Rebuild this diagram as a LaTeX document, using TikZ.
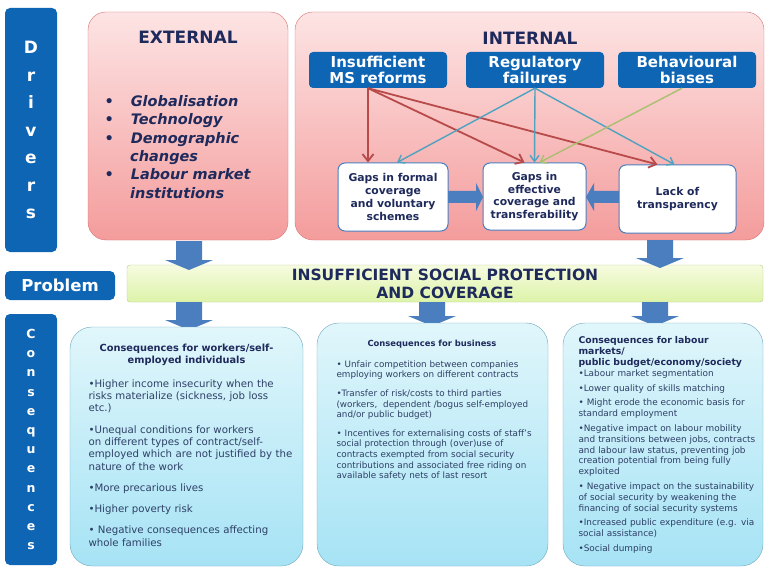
\documentclass[tikz,border=0pt]{standalone}
\usepackage{fontspec}
\setmainfont{DejaVu Sans}
\usetikzlibrary{arrows.meta}
\hyphenpenalty=10000
\definecolor{dblue}{HTML}{0E65B4}
\definecolor{navy}{HTML}{1F2A5C}
\definecolor{ctx}{HTML}{2E3F66}
\definecolor{pinkT}{HTML}{FDE4E4}
\definecolor{pinkB}{HTML}{F49C9C}
\definecolor{pinkE}{HTML}{D97070}
\definecolor{cyT}{HTML}{E0F6FB}
\definecolor{cyB}{HTML}{A6E3F5}
\definecolor{cyE}{HTML}{6FA9BE}
\definecolor{redA}{HTML}{B84A4A}
\definecolor{tealA}{HTML}{4FA2C0}
\definecolor{grnA}{HTML}{A8C070}
\definecolor{bigA}{HTML}{4A7EBF}
\definecolor{prT}{HTML}{F6FBE0}
\definecolor{prB}{HTML}{DDF3A8}
\tikzset{
 side/.style={draw=none,fill=dblue,rounded corners=5pt,text=white,font=\bfseries},
 drv/.style={rounded corners=18pt,draw=pinkE,top color=pinkT,bottom color=pinkB},
 bbox/.style={rounded corners=4pt,fill=dblue,draw=none,text=white,font=\fontsize{15}{16}\selectfont\bfseries,align=center},
 wbox/.style={rounded corners=7pt,fill=white,draw=bigA,line width=1pt,text=navy,font=\fontsize{10.8}{12.8}\selectfont\bfseries,align=center},
 cbox/.style={rounded corners=22pt,draw=cyE,top color=cyT,bottom color=cyB},
 ctext/.style={text=ctx,align=left,anchor=north west},
 ra/.style={draw=redA,line width=1.8pt,-{Straight Barb[length=7pt,width=11pt]}},
 ta/.style={draw=tealA,line width=1.4pt,-{Straight Barb[length=6pt,width=9pt]}},
 ga/.style={draw=grnA,line width=1.4pt,-{Straight Barb[length=6pt,width=9pt]}},
 big/.style={fill=bigA,draw=none},
}
\newcommand{\downarr}[3]{\fill[big] (#1-13,#2) -- (#1+13,#2) -- (#1+13,#3-10) -- (#1+24,#3-10) -- (#1,#3) -- (#1-24,#3-10) -- (#1-13,#3-10) -- cycle;}
\begin{document}
\begin{tikzpicture}[x=1pt,y=-1pt]
\useasboundingbox[fill=white] (0,0) rectangle (768,572);
% side bars
\node[side,minimum width=52pt,minimum height=244pt,font=\fontsize{17}{27.5}\selectfont\bfseries,align=center] (drivers) at (31,130) {D\\r\\i\\v\\e\\r\\s};
\node[side,minimum width=110pt,minimum height=29pt,font=\fontsize{16.5}{18}\selectfont\bfseries] (problem) at (60,285.5) {Problem};
\node[side,minimum width=52pt,minimum height=251pt,font=\fontsize{12.5}{19.2}\selectfont\bfseries,align=center] (cons) at (31,439.5) {C\\o\\n\\s\\e\\q\\u\\e\\n\\c\\e\\s};
% driver boxes
\draw[drv] (88,12) rectangle (288,240);
\draw[drv] (295,12) rectangle (764,240);
\node[text=navy,font=\fontsize{17}{19}\selectfont\bfseries] (ext) at (188,37) {EXTERNAL};
\node[text=navy,font=\fontsize{17}{19}\selectfont\bfseries] (int) at (530,38) {INTERNAL};
\node[text=navy,font=\fontsize{14.5}{18.3}\selectfont\bfseries\itshape,align=left,anchor=north west] (extlist) at (101,92)
 {\textbullet\hspace{17pt}Globalisation\\\textbullet\hspace{17pt}Technology\\\textbullet\hspace{17pt}Demographic\\\hspace{25.7pt}changes\\\textbullet\hspace{17pt}Labour market\\\hspace{25.7pt}institutions};
% blue boxes
\node[bbox,minimum width=138pt,minimum height=36pt] (ins) at (378,70) {Insufficient\\MS reforms};
\node[bbox,minimum width=138pt,minimum height=36pt] (reg) at (535,70) {Regulatory\\failures};
\node[bbox,minimum width=138pt,minimum height=36pt] (beh) at (687,70) {Behavioural\\biases};
% white boxes
\node[wbox,minimum width=110pt,minimum height=68pt] (gf) at (393,197) {Gaps in formal\\coverage\\and voluntary\\schemes};
\node[wbox,minimum width=103pt,minimum height=67pt] (ge) at (534.5,196.5) {Gaps in\\effective\\coverage and\\transferability};
\node[wbox,minimum width=117pt,minimum height=68pt] (lt) at (677.5,199) {Lack of\\transparency};
% arrows
\draw[ra] (ins.south) ++(-10,0) coordinate (i0) -- (gf.north -| i0);
\draw[ra] (i0) -- ([xshift=-10pt]ge.north);
\draw[ra] (i0) -- ([xshift=-20pt]lt.north);
\draw[ta] (reg.south) -- ([xshift=4pt]gf.north);
\draw[ta] (reg.south) -- (ge.north);
\draw[ta] (reg.south) -- ([xshift=-3pt]lt.north);
\draw[ga] ([xshift=-5pt]beh.south) -- ([xshift=5pt]ge.north);
\fill[big] (448,191) -- (476,191) -- (476,183) -- (483,197) -- (476,211) -- (476,203) -- (448,203) -- cycle;
\fill[big] (619,191) -- (594,191) -- (594,183) -- (586,197) -- (594,211) -- (594,203) -- (619,203) -- cycle;
% problem bar
\draw[rounded corners=3pt,draw=grnA!80,top color=prT,bottom color=prB] (127,265) rectangle (763,302);
\node[text=navy,font=\fontsize{15.5}{18}\selectfont\bfseries,align=center] (pb) at (445,284) {INSUFFICIENT SOCIAL PROTECTION\\AND COVERAGE};
% big arrows
\downarr{189}{241}{270}
\downarr{660}{240}{268}
\downarr{189}{302}{330}
\downarr{432}{302}{326}
\downarr{655}{302}{326}
% consequence boxes
\draw[cbox] (70,327) rectangle (303,566);
\draw[cbox] (317,323) rectangle (548,566);
\draw[cbox] (563,323) rectangle (763,566);
\node[text=navy,font=\fontsize{9.8}{12}\selectfont\bfseries,align=center] (c1t) at (186.5,355) {Consequences for workers/self-\\employed individuals};
\node[ctext,text width=205pt,font=\fontsize{10.2}{12.3}\selectfont] (c1) at (85,376) {\textbullet Higher income insecurity when the risks materialize (sickness, job loss etc.)\\[9pt]\textbullet Unequal conditions for workers on different types of contract/self-employed which are not justified by the nature of the work\\[9pt]\textbullet More precarious lives\\[9pt]\textbullet Higher poverty risk\\[9pt]\textbullet\ Negative consequences affecting whole families};
\node[text=navy,font=\fontsize{8.4}{10}\selectfont\bfseries] (c2t) at (432,344) {Consequences for business};
\node[ctext,text width=205pt,font=\fontsize{8.8}{10.6}\selectfont] (c2) at (333,357) {\textbullet\ Unfair competition between companies employing workers on different contracts\\[8pt]\textbullet Transfer of risk/costs to third parties (workers,\ \ dependent /bogus self-employed and/or public budget)\\[8pt]\textbullet\ Incentives for externalising costs of staff's social protection through (over)use of contracts exempted from social security contributions and associated free riding on available safety nets of last resort};
\node[ctext,text width=185pt,font=\fontsize{9.3}{11}\selectfont\bfseries,text=navy] (c3t) at (575,333) {Consequences for labour\\markets/\\public budget/economy/society};
\node[ctext,text width=182pt,font=\fontsize{8.9}{10.8}\selectfont] (c3) at (575,366) {\textbullet Labour market segmentation\\[4pt]\textbullet Lower quality of skills matching\\[4pt]\textbullet\ Might erode the economic basis for standard employment\\[4pt]\textbullet Negative impact on labour mobility and transitions between jobs, contracts and labour law status, preventing job creation potential from being fully exploited\\[4pt]\textbullet\ Negative impact on the sustainability of social security by weakening the financing of social security systems\\[4pt]\textbullet Increased public expenditure (e.g. via social assistance)\\[4pt]\textbullet Social dumping};
\end{tikzpicture}
\end{document}
